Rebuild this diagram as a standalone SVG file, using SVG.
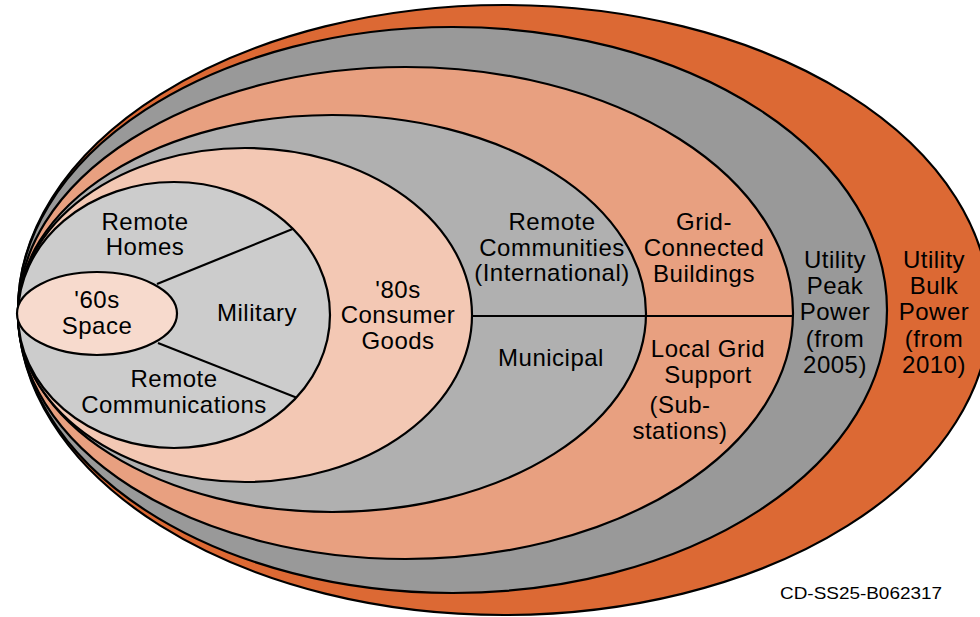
<svg xmlns="http://www.w3.org/2000/svg" width="980" height="617" viewBox="0 0 980 617">
<style>
.ring{stroke:#000;stroke-width:2.2}
.div{stroke:#000;stroke-width:2.2;fill:none}
text{font-family:"Liberation Sans",Arial,sans-serif;font-size:24px;letter-spacing:0.5px;fill:#000;text-anchor:middle}
.id{font-size:17px;letter-spacing:0;text-anchor:start}
</style>
<defs>
<clipPath id="e6clip"><ellipse cx="174" cy="315" rx="156" ry="133"/></clipPath>
</defs>
<rect width="980" height="617" fill="#fff"/>
<g id="bulk"><ellipse class="ring" cx="504" cy="310" rx="486" ry="305" fill="#DC6934"/></g>
<g id="peak"><ellipse class="ring" cx="452.5" cy="310" rx="434.5" ry="283" fill="#999999"/></g>
<g id="grid"><ellipse class="ring" cx="405.5" cy="313" rx="387.5" ry="246" fill="#E8A080"/></g>
<g id="remote-municipal"><ellipse class="ring" cx="332" cy="313.5" rx="314" ry="198.5" fill="#B0B0B0"/></g>
<g id="consumer"><ellipse class="ring" cx="245" cy="315" rx="227" ry="167" fill="#F3C8B4"/></g>
<g id="remote-military"><ellipse class="ring" cx="174" cy="315" rx="156" ry="133" fill="#CCCCCC"/></g>
<g id="connectors">
<g clip-path="url(#e6clip)">
<line class="div" x1="157" y1="284" x2="300" y2="226"/>
<line class="div" x1="158" y1="343" x2="305" y2="401"/>
</g>
<line class="div" x1="472" y1="316" x2="793" y2="316"/>
</g>
<g id="space"><ellipse class="ring" cx="97" cy="313.5" rx="80" ry="41.5" fill="#F7DACD"/></g>
<g id="labels">
<text x="145" y="230">Remote</text><text x="145" y="255">Homes</text>
<text x="97" y="308">'60s</text><text x="97" y="334">Space</text>
<text x="257" y="321">Military</text>
<text x="174" y="387">Remote</text><text x="174" y="413">Communications</text>
<text x="398" y="298">'80s</text><text x="398" y="323">Consumer</text><text x="398" y="349">Goods</text>
<text x="552" y="230">Remote</text><text x="552" y="256">Communities</text><text x="552" y="281">(International)</text>
<text x="551" y="366">Municipal</text>
<text x="704" y="230">Grid-</text><text x="704" y="256">Connected</text><text x="704" y="282">Buildings</text>
<text x="708" y="357">Local Grid</text><text x="708" y="383">Support</text><text x="680" y="413">(Sub-</text><text x="680" y="439">stations)</text>
<text x="835" y="268">Utility</text><text x="835" y="294">Peak</text><text x="835" y="320">Power</text><text x="835" y="347">(from</text><text x="835" y="373">2005)</text>
<text x="934" y="268">Utility</text><text x="934" y="294">Bulk</text><text x="934" y="320">Power</text><text x="934" y="347">(from</text><text x="934" y="373">2010)</text>
<text class="id" x="780" y="599" textLength="162" lengthAdjust="spacingAndGlyphs">CD-SS25-B062317</text>
</g>
</svg>
